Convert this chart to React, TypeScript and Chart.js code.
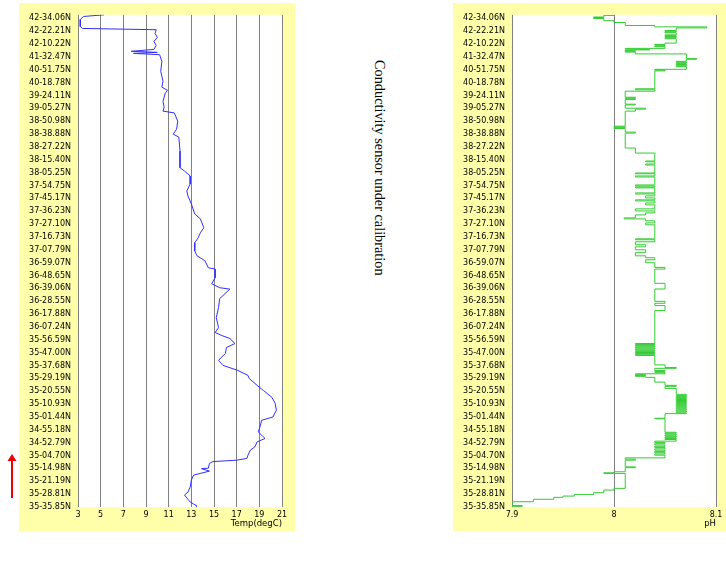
import React, { useEffect, useRef } from "react";
import { Chart, registerables } from "chart.js";

Chart.register(...registerables);

// Along-track position labels, top of the panel to bottom
const latLabels = [
  "42-34.06N", "42-22.21N", "42-10.22N", "41-32.47N", "40-51.75N", "40-18.78N",
  "39-24.11N", "39-05.27N", "38-50.98N", "38-38.88N", "38-27.22N", "38-15.40N",
  "38-05.25N", "37-54.75N", "37-45.17N", "37-36.23N", "37-27.10N", "37-16.73N",
  "37-07.79N", "36-59.07N", "36-48.65N", "36-39.06N", "36-28.55N", "36-17.88N",
  "36-07.24N", "35-56.59N", "35-47.00N", "35-37.68N", "35-29.19N", "35-20.55N",
  "35-10.93N", "35-01.44N", "34-55.18N", "34-52.79N", "35-04.70N", "35-14.98N",
  "35-21.19N", "35-28.81N", "35-35.85N",
];

// Track position (in label steps, 0 = bottom label) and temperature (degC)
const tempPos = [
  38.27, 38.14, 37.91, 37.36, 37.21, 37.11, 36.82, 36.51, 36.2, 35.89,
  35.58, 35.43, 35.35, 35.27, 35.17, 34.65, 33.88, 33.1, 32.64, 32.4,
  32.17, 31.55, 31.09, 30.78, 30.64, 30.0, 29.38, 28.99, 28.76, 27.67,
  26.38, 26.12, 25.74, 25.12, 24.57, 24.19, 23.57, 22.79, 22.4, 21.71,
  21.32, 20.93, 20.54, 19.92, 19.53, 19.15, 18.6, 18.5, 17.83, 17.36,
  17.05, 16.94, 16.2, 15.5, 14.73, 13.95, 13.57, 13.33, 13.1, 12.71,
  12.4, 11.94, 11.4, 11.01, 10.62, 10.23, 10.0, 9.46, 9.07, 8.53,
  8.06, 7.52, 7.0, 6.74, 6.2, 5.84, 5.5, 5.33, 5.06, 4.67,
  4.42, 4.03, 3.78, 3.64, 3.53, 3.39, 3.02, 2.98, 2.79, 2.48,
  2.09, 1.55, 1.16, 0.93, 0.7, 0.39, 0.23, 0.08, 0.0,
];
const tempVal = [
  5.3, 3.5, 3.2, 3.2, 3.4, 9.9, 9.8, 10.0, 9.7, 9.9,
  9.7, 7.7, 10.0, 7.9, 10.2, 10.4, 10.3, 10.5, 10.4, 10.9,
  10.7, 10.5, 10.6, 10.5, 11.5, 11.8, 11.7, 11.4, 11.9, 12.0,
  12.0, 12.4, 12.9, 12.9, 12.6, 12.7, 13.0, 13.3, 13.8, 14.1,
  13.8, 13.6, 13.3, 13.3, 13.5, 14.2, 14.5, 15.1, 15.1, 14.8,
  15.5, 16.4, 15.5, 15.4, 15.2, 15.4, 15.1, 15.7, 16.4, 16.85,
  16.1, 16.0, 15.4, 15.8, 17.1, 18.0, 18.1, 18.8, 19.35, 20.1,
  20.4, 20.5, 20.2, 19.2, 19.05, 18.9, 19.3, 19.5, 18.8, 18.6,
  18.2, 18.0, 17.9, 17.0, 14.9, 14.6, 14.5, 13.9, 14.6, 13.2,
  13.0, 12.9, 12.7, 12.4, 12.6, 12.9, 13.2, 13.5, 13.4,
];

// Track position and pH (stepped trace)
const phPos = [
  38.27, 38.22, 38.1, 38.06, 38.02, 37.98, 37.81, 37.67, 37.44, 37.33,
  37.25, 37.05, 36.99, 36.93, 36.87, 36.71, 36.65, 36.59, 36.53, 36.47,
  36.41, 36.07, 35.97, 35.91, 35.85, 35.79, 35.66, 35.6, 35.58, 35.54,
  35.48, 35.43, 35.37, 35.23, 34.88, 34.81, 34.65, 34.59, 34.53, 34.47,
  34.41, 34.35, 34.29, 34.23, 34.03, 33.97, 33.91, 32.52, 32.44, 32.33,
  31.86, 31.8, 31.74, 31.68, 31.32, 31.26, 31.01, 30.93, 30.78, 29.61,
  29.55, 29.49, 29.43, 29.15, 29.07, 27.91, 27.52, 26.9, 26.84, 26.67,
  26.59, 25.97, 25.91, 25.74, 25.66, 25.04, 24.96, 24.88, 24.81, 24.42,
  24.34, 24.19, 24.03, 23.88, 23.8, 23.64, 23.49, 23.18, 23.02, 22.87,
  22.71, 22.48, 22.4, 22.25, 22.09, 21.94, 20.85, 20.78, 20.62, 20.39,
  20.23, 20.0, 19.77, 19.53, 19.38, 19.22, 18.99, 18.63, 18.5, 17.39,
  16.95, 15.99, 15.84, 15.66, 15.27, 12.71, 12.64, 12.57, 12.5, 12.43,
  12.36, 12.29, 12.22, 12.15, 12.08, 12.01, 11.94, 11.87, 11.78, 11.05,
  10.85, 10.78, 10.62, 10.54, 10.47, 10.36, 10.29, 10.23, 10.16, 10.08,
  9.71, 9.46, 9.38, 9.22, 8.76, 8.68, 8.6, 8.52, 8.44, 8.36,
  8.28, 8.2, 8.12, 8.04, 7.96, 7.88, 7.8, 7.72, 7.64, 7.56,
  7.48, 7.4, 7.32, 7.26, 6.9, 6.86, 5.81, 5.74, 5.67, 5.6,
  5.53, 5.46, 5.39, 5.32, 5.25, 5.12, 5.02, 4.92, 4.82, 4.72,
  4.62, 4.52, 4.42, 4.32, 4.22, 4.12, 4.03, 3.82, 3.72, 3.64,
  3.12, 3.06, 2.74, 2.66, 2.61, 1.45, 1.32, 1.11, 0.98, 0.85,
  0.75, 0.6, 0.41, 0.12, 0.05, 0.0,
];
const phVal = [
  8.0, 7.99, 7.98, 7.99, 7.98, 7.99, 8.0, 8.011, 8.04, 8.091,
  8.061, 8.05, 8.061, 8.05, 8.061, 8.05, 8.061, 8.05, 8.061, 8.05,
  8.061, 8.05, 8.04, 8.05, 8.04, 8.05, 8.011, 8.021, 8.035, 8.011,
  8.021, 8.011, 8.021, 8.071, 8.081, 8.071, 8.061, 8.071, 8.061, 8.071,
  8.061, 8.071, 8.061, 8.071, 8.04, 8.05, 8.04, 8.021, 8.04, 8.011,
  8.021, 8.011, 8.021, 8.011, 8.021, 8.011, 8.031, 8.021, 8.011, 8.0,
  8.011, 8.0, 8.011, 8.021, 8.011, 8.021, 8.04, 8.031, 8.04, 8.031,
  8.04, 8.021, 8.04, 8.021, 8.04, 8.021, 8.04, 8.021, 8.04, 8.021,
  8.04, 8.031, 8.04, 8.021, 8.04, 8.031, 8.04, 8.021, 8.04, 8.031,
  8.021, 8.01, 8.031, 8.04, 8.031, 8.04, 8.021, 8.04, 8.021, 8.031,
  8.021, 8.031, 8.021, 8.031, 8.04, 8.031, 8.04, 8.05, 8.04, 8.05,
  8.04, 8.05, 8.04, 8.05, 8.04, 8.021, 8.04, 8.021, 8.04, 8.021,
  8.04, 8.021, 8.04, 8.021, 8.04, 8.021, 8.04, 8.021, 8.04, 8.05,
  8.061, 8.04, 8.05, 8.04, 8.05, 8.021, 8.031, 8.021, 8.031, 8.04,
  8.05, 8.061, 8.05, 8.061, 8.071, 8.061, 8.071, 8.061, 8.071, 8.061,
  8.071, 8.061, 8.071, 8.061, 8.071, 8.061, 8.071, 8.061, 8.071, 8.061,
  8.071, 8.061, 8.071, 8.05, 8.04, 8.05, 8.061, 8.05, 8.061, 8.05,
  8.061, 8.05, 8.061, 8.05, 8.061, 8.04, 8.05, 8.04, 8.05, 8.04,
  8.05, 8.04, 8.05, 8.04, 8.05, 8.04, 8.05, 8.011, 8.021, 8.011,
  8.021, 8.011, 8.0, 7.99, 8.011, 8.0, 7.99, 7.98, 7.961, 7.95,
  7.941, 7.921, 7.9, 7.91, 7.9, 7.9,
];

const tempAxis = { min: 3, max: 21, step: 2, title: "Temp(degC)" };
const phAxis = { min: 7.9, max: 8.1, step: 0.1, title: "pH" };
const posMax = 38.27;
const middleNote = "Conductivity sensor under calibration";

const PANEL_BG = "#ffffaa";
const TICK_FONT = { family: "'DejaVu Sans', sans-serif", size: 8 };
const TITLE_FONT = { family: "'DejaVu Sans', sans-serif", size: 8.5 };

const whitePlot = {
  id: "whitePlot",
  beforeDraw(chart: any) {
    const { ctx, chartArea: a } = chart;
    ctx.save();
    ctx.fillStyle = "#ffffff";
    ctx.fillRect(a.left, a.top, a.right - a.left, a.bottom - a.top);
    ctx.restore();
  },
};

function buildConfig(
  pos: number[],
  vals: number[],
  color: string,
  stepped: boolean,
  axis: { min: number; max: number; step: number; title: string },
  rightPad: number
): any {
  const n = latLabels.length;
  return {
    type: "scatter",
    data: {
      datasets: [
        {
          data: pos.map((p, i) => ({ x: vals[i], y: p })),
          showLine: true,
          borderColor: color,
          borderWidth: 1,
          pointRadius: 0,
          pointHoverRadius: 0,
          tension: 0,
          fill: false,
          stepped: stepped ? "after" : false,
        },
      ],
    },
    options: {
      animation: false,
      responsive: false,
      events: [],
      layout: { padding: { left: 0, right: rightPad, top: 10, bottom: 2 } },
      plugins: { legend: { display: false }, tooltip: { enabled: false } },
      scales: {
        x: {
          type: "linear",
          min: axis.min,
          max: axis.max,
          afterFit: (s: any) => {
            s.height = 22;
          },
          grid: { color: "#808080", lineWidth: 1, drawTicks: false },
          border: { display: false },
          ticks: {
            stepSize: axis.step,
            autoSkip: false,
            maxRotation: 0,
            padding: 3,
            color: "#000",
            font: TICK_FONT,
            callback: (v: any) => String(+Number(v).toFixed(2)),
          },
          title: {
            display: true,
            text: axis.title,
            align: "end",
            padding: 0,
            color: "#000",
            font: TITLE_FONT,
          },
        },
        y: {
          type: "linear",
          min: 0,
          max: posMax,
          afterFit: (s: any) => {
            s.width = 59;
          },
          grid: { display: false, drawTicks: false },
          border: { display: false },
          ticks: {
            stepSize: 1,
            autoSkip: false,
            includeBounds: false,
            padding: 7,
            color: "#000",
            font: TICK_FONT,
            callback: (v: any) => latLabels[n - 1 - Math.round(Number(v))] ?? "",
          },
        },
      },
    },
    plugins: [whitePlot],
  };
}

export default function App() {
  const leftRef = useRef<HTMLCanvasElement | null>(null);
  const rightRef = useRef<HTMLCanvasElement | null>(null);

  useEffect(() => {
    const left = new Chart(
      leftRef.current as HTMLCanvasElement,
      buildConfig(tempPos, tempVal, "#3030ff", false, tempAxis, 13)
    );
    const right = new Chart(
      rightRef.current as HTMLCanvasElement,
      buildConfig(phPos, phVal, "#33cc33", true, phAxis, 10)
    );
    return () => {
      left.destroy();
      right.destroy();
    };
  }, []);

  return (
    <div
      style={{
        position: "absolute",
        left: 0,
        top: 0,
        width: 726,
        height: 561,
        background: "#ffffff",
        overflow: "hidden",
      }}
    >
      <svg
        width={30}
        height={561}
        style={{ position: "absolute", left: 0, top: 0 }}
      >
        <line x1={12} y1={498} x2={12} y2={459} stroke="#ee0000" strokeWidth={2} />
        <polygon points="7.5,461 16.5,461 12,454" fill="#ee0000" />
      </svg>
      <canvas
        ref={leftRef}
        width={276}
        height={528}
        style={{ position: "absolute", left: 19, top: 3, background: PANEL_BG }}
      />
      <div
        style={{
          position: "absolute",
          left: 388,
          top: 60,
          transform: "rotate(90deg)",
          transformOrigin: "0 0",
          whiteSpace: "nowrap",
          font: "14.3px 'Liberation Serif', serif",
          lineHeight: "16px",
          color: "#000",
        }}
      >
        {middleNote}
      </div>
      <canvas
        ref={rightRef}
        width={273}
        height={528}
        style={{ position: "absolute", left: 453, top: 3, background: PANEL_BG }}
      />
    </div>
  );
}
